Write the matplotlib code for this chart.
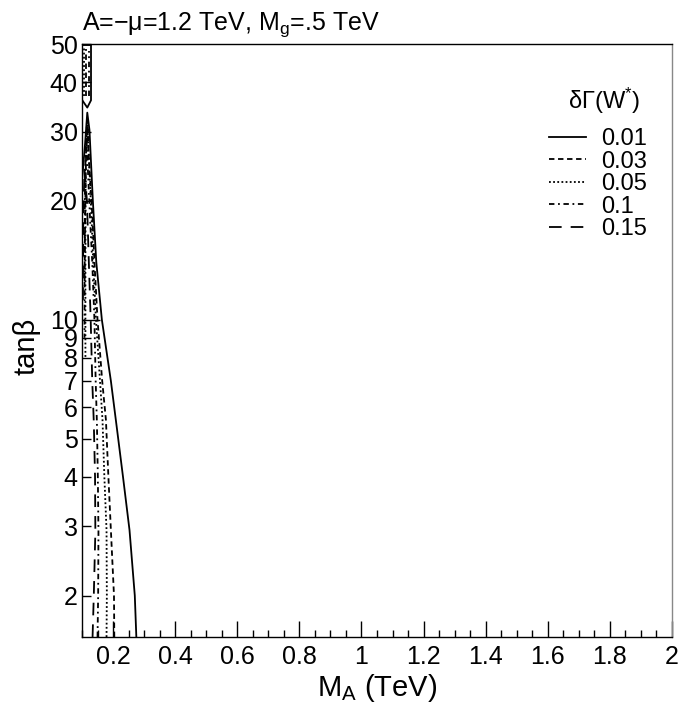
import matplotlib
matplotlib.use("Agg")
import matplotlib.pyplot as plt
from matplotlib.ticker import FixedLocator, FixedFormatter, MultipleLocator, FuncFormatter

plt.rcParams['font.family'] = ['Liberation Sans', 'DejaVu Sans']
plt.rcParams['mathtext.fontset'] = 'custom'
plt.rcParams['mathtext.rm'] = 'Liberation Sans'
plt.rcParams['mathtext.it'] = 'Liberation Sans'

# ---- data ----
levels = ["0.01", "0.03", "0.05", "0.1", "0.15"]

# contour 0.01 (solid)
ma_001 = [0.275, 0.270, 0.253, 0.232, 0.213, 0.193, 0.164, 0.146, 0.135, 0.124, 0.117, 0.110, 0.101]
tb_001 = [1.57, 2.0, 2.93, 4.0, 5.26, 7.0, 10.0, 14.0, 20.0, 30.3, 33.5, 28.0, 23.0]
ma_001_top = [0.100, 0.129, 0.129, 0.117, 0.101]
tb_001_top = [49.7, 49.7, 36.0, 34.5, 36.0]

# contour 0.03 (dashed)
ma_003 = [0.204, 0.203, 0.193, 0.185, 0.177, 0.165, 0.150, 0.140, 0.134, 0.122, 0.118, 0.113, 0.110, 0.108]
tb_003 = [1.57, 2.0, 2.93, 4.0, 5.58, 7.0, 10.0, 14.0, 17.9, 26.0, 31.0, 26.0, 18.0, 12.0]
ma_003_top = [0.114, 0.114]
tb_003_top = [37.0, 48.5]

# contour 0.05 (dotted)
ma_005 = [0.179, 0.180, 0.179, 0.172, 0.166, 0.158, 0.145, 0.136, 0.131, 0.120, 0.116, 0.112, 0.111, 0.111]
tb_005 = [1.57, 2.0, 2.93, 4.0, 5.58, 7.0, 10.0, 14.0, 17.9, 28.0, 32.0, 25.0, 14.0, 8.0]
ma_005_top = [0.107, 0.107]
tb_005_top = [37.0, 49.0]

# contour 0.1 (dash-dot)
ma_01 = [0.150, 0.152, 0.153, 0.151, 0.148, 0.144, 0.140, 0.133, 0.126, 0.118, 0.113, 0.109, 0.108]
tb_01 = [1.57, 2.0, 2.9, 4.0, 5.5, 7.0, 10.0, 14.0, 18.0, 25.0, 30.0, 20.0, 9.0]
ma_01_top = [0.121, 0.121]
tb_01_top = [37.0, 48.0]

# contour 0.15 (long dash)
ma_015 = [0.134, 0.138, 0.143, 0.142, 0.138, 0.133, 0.128, 0.122, 0.116, 0.108, 0.104, 0.103]
tb_015 = [1.57, 2.0, 2.9, 4.0, 5.5, 7.0, 10.0, 14.0, 20.0, 24.0, 18.0, 11.0]

xticks = [0.2, 0.4, 0.6, 0.8, 1.0, 1.2, 1.4, 1.6, 1.8, 2.0]
xticklabels = ["0.2", "0.4", "0.6", "0.8", "1", "1.2", "1.4", "1.6", "1.8", "2"]
yticks_major = [10]
yticks_minor = [2, 3, 4, 5, 6, 7, 8, 9, 20, 30, 40, 50]

styles = {
    "0.01": dict(linestyle="-", lw=1.3),
    "0.03": dict(linestyle=(0, (3.0, 2.0)), lw=1.3),
    "0.05": dict(linestyle=(0, (1.0, 1.3)), lw=1.3),
    "0.1": dict(linestyle=(0, (3.0, 2.0, 1.0, 2.0)), lw=1.3),
    "0.15": dict(linestyle=(0, (7.0, 5.0)), lw=1.3),
}

fig = plt.figure(figsize=(6.85, 7.11), dpi=100)
ax = fig.add_axes([82/685, 1 - 637/711, (672-82)/685, (637-44)/711])

series = [
    ("0.01", ma_001, tb_001, ma_001_top, tb_001_top),
    ("0.03", ma_003, tb_003, ma_003_top, tb_003_top),
    ("0.05", ma_005, tb_005, ma_005_top, tb_005_top),
    ("0.1", ma_01, tb_01, ma_01_top, tb_01_top),
    ("0.15", ma_015, tb_015, None, None),
]
for lab, mx, ty, mxt, tyt in series:
    ax.plot(mx, ty, color="black", label=lab, **styles[lab])
    if mxt is not None:
        ax.plot(mxt, tyt, color="black", **styles[lab])

ax.set_yscale("log")
ax.set_xlim(0.1, 2.0)
ax.set_ylim(1.57, 50)

ax.xaxis.set_major_locator(FixedLocator(xticks))
ax.xaxis.set_major_formatter(FixedFormatter(xticklabels))
ax.xaxis.set_minor_locator(MultipleLocator(0.05))
ax.yaxis.set_major_locator(FixedLocator(yticks_major))
ax.yaxis.set_major_formatter(FuncFormatter(lambda v, p: "%d" % round(v)))
ax.yaxis.set_minor_locator(FixedLocator(yticks_minor))
ax.yaxis.set_minor_formatter(FuncFormatter(lambda v, p: "%d" % round(v)))

ax.tick_params(axis="x", which="major", direction="in", length=11.5, width=1, labelsize=18, pad=6)
ax.tick_params(axis="x", which="minor", direction="in", length=5, width=1)
ax.tick_params(axis="y", which="major", direction="in", length=13, width=1, labelsize=18, pad=3)
ax.tick_params(axis="y", which="minor", direction="in", length=6.5, width=1, labelsize=18, pad=3)
ax.tick_params(top=False, right=False, which="both")
for s in ax.spines.values():
    s.set_linewidth(1.0)
ax.spines["right"].set_color("#888888")

ax.set_xlabel("M$_{\\rm A}$ (TeV)", fontsize=21, labelpad=2)
ax.set_ylabel("tan\u03b2", fontsize=21)
ax.yaxis.set_label_coords(-0.071, 0.49)

ax.text(0.0, 1.0236, "A=\u2212\u03bc=1.2 TeV, M$_{\\rm g}$=.5 TeV", transform=ax.transAxes,
        fontsize=18, ha="left", va="baseline")

# legend header
ax.text(0.946, 0.904, "\u03b4\u0393(W$^{*}$)", transform=ax.transAxes,
        fontsize=17, ha="right", va="center")
leg = ax.legend(loc="upper left", bbox_to_anchor=(0.7915, 0.858),
                frameon=False, fontsize=17, handlelength=1.55,
                handletextpad=0.65, labelspacing=0.02, borderaxespad=0, borderpad=0)

fig.savefig("out.png", dpi=100)
